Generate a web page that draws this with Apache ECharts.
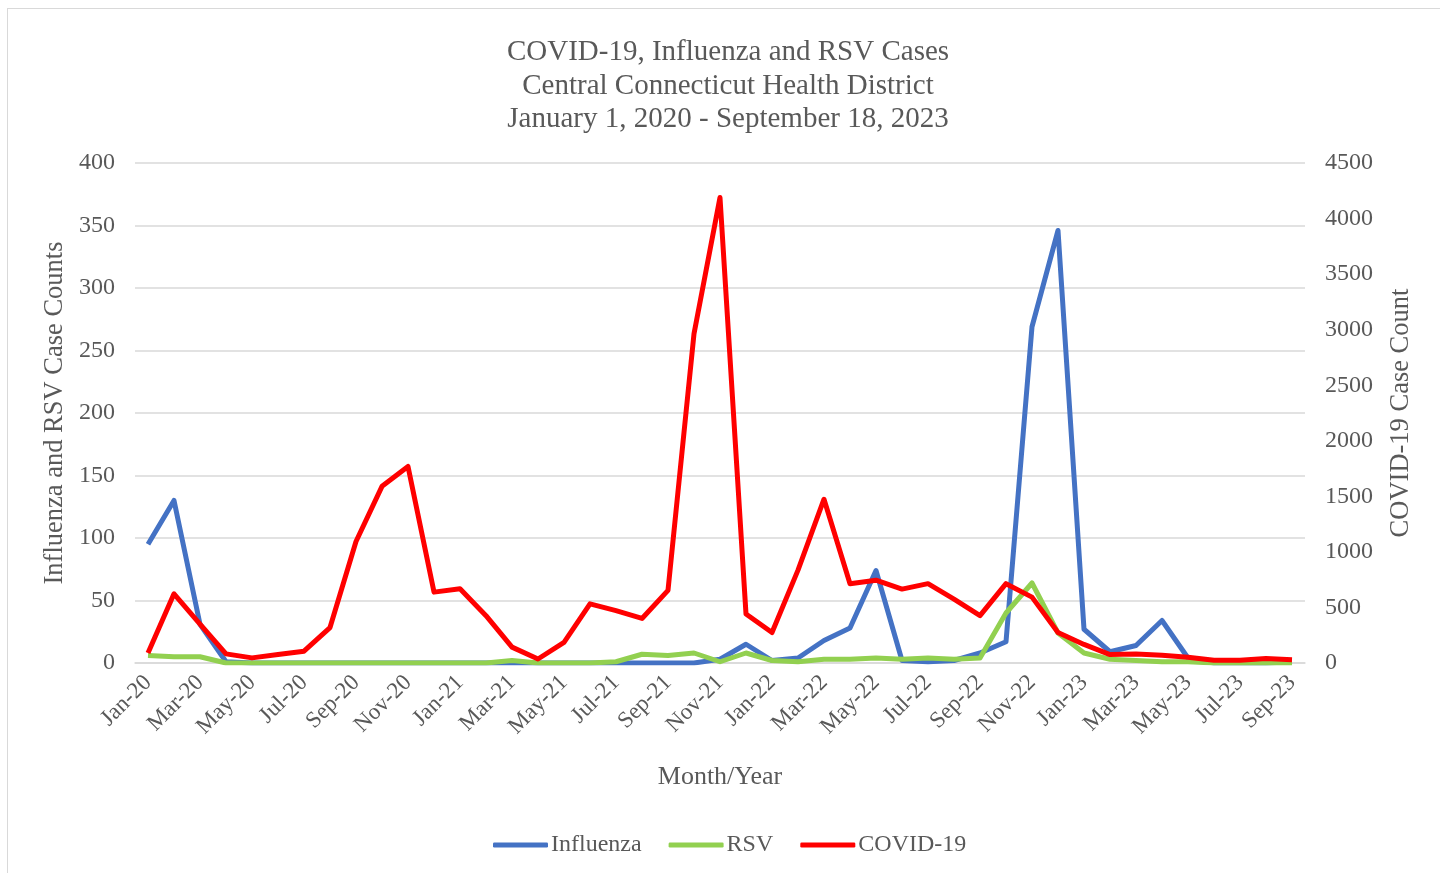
<!DOCTYPE html>
<html>
<head>
<meta charset="utf-8">
<script src="https://cdn.jsdelivr.net/npm/echarts@6/dist/echarts.min.js"></script>
<style>
  html, body { margin: 0; padding: 0; background: #fff; }
  #frame { position: absolute; left: 7px; top: 8px; width: 1440px; height: 880px; border: 1px solid #d9d9d9; }
  #main { position: absolute; left: 0; top: 0; width: 1440px; height: 873px; }
</style>
</head>
<body>
<div id="frame"></div>
<div id="main"></div>
<script>
var months = ['Jan-20','Feb-20','Mar-20','Apr-20','May-20','Jun-20','Jul-20','Aug-20','Sep-20','Oct-20','Nov-20','Dec-20',
              'Jan-21','Feb-21','Mar-21','Apr-21','May-21','Jun-21','Jul-21','Aug-21','Sep-21','Oct-21','Nov-21','Dec-21',
              'Jan-22','Feb-22','Mar-22','Apr-22','May-22','Jun-22','Jul-22','Aug-22','Sep-22','Oct-22','Nov-22','Dec-22',
              'Jan-23','Feb-23','Mar-23','Apr-23','May-23','Jun-23','Jul-23','Aug-23','Sep-23'];
var influenza = [95,130,31,1,0,0,0,0,0,0,0,0,
                 0,0,0,0,0,0,0,0,0,0,3,15,
                 2,4,18,28,74,2,1,2,8,17,269,346,
                 27,9,14,34,4,0,0,0,1];
var rsv = [6,5,5,0,0,0,0,0,0,0,0,0,
           0,0,2,0,0,0,1,7,6,8,1,8,
           2,1,3,3,4,3,4,3,4,40,64,24,
           8,3,2,1,1,0,0,0,0];
var covid = [91,623,350,82,46,76,106,319,1094,1590,1769,638,
             669,426,143,36,185,532,471,401,654,2964,4189,441,
             274,836,1474,714,745,665,714,575,426,714,593,274,
             167,76,82,70,52,24,24,40,30];

var chart = echarts.init(document.getElementById('main'));
var serif = '"Liberation Serif", "Times New Roman", serif';
var grey = '#595959';
var option = {
  textStyle: { fontFamily: serif },
  title: {
    text: 'COVID-19, Influenza and RSV Cases\nCentral Connecticut Health District\nJanuary 1, 2020 - September 18, 2023',
    left: 723, top: 31, textAlign: 'center',
    textStyle: { fontFamily: serif, fontSize: 29, fontWeight: 'normal', color: grey, lineHeight: 33.5 }
  },
  legend: {
    bottom: 11, left: 488,
    itemWidth: 55, itemHeight: 5, itemGap: 27,
    icon: 'roundRect',
    textStyle: { fontFamily: serif, fontSize: 24, color: grey, padding: [0, 0, 0, -2] },
    data: ['Influenza', 'RSV', 'COVID-19']
  },
  grid: { left: 135, right: 135, top: 163, bottom: 210 },
  xAxis: {
    type: 'category', data: months, boundaryGap: true,
    name: 'Month/Year', nameLocation: 'middle', nameGap: 101,
    nameTextStyle: { fontFamily: serif, fontSize: 26, color: grey },
    axisLine: { lineStyle: { color: '#d9d9d9', width: 1.5 } },
    axisTick: { interval: 1, length: 6, lineStyle: { color: '#d9d9d9' } },
    axisLabel: { interval: 1, rotate: 45, fontFamily: serif, fontSize: 23, color: grey, margin: 16 }
  },
  yAxis: [{
    type: 'value', min: 0, max: 400, interval: 50,
    name: 'Influenza and RSV Case Counts', nameLocation: 'middle', nameGap: 62, nameRotate: 90,
    nameTextStyle: { fontFamily: serif, fontSize: 26.5, color: grey },
    axisLine: { show: false }, axisTick: { show: false },
    axisLabel: { fontFamily: serif, fontSize: 24, color: grey, margin: 20 },
    splitLine: { lineStyle: { color: '#d9d9d9', width: 1.5 } }
  }, {
    type: 'value', min: 0, max: 4500, interval: 500,
    name: 'COVID-19 Case Count', nameLocation: 'middle', nameGap: 83, nameRotate: 90,
    nameTextStyle: { fontFamily: serif, fontSize: 26.5, color: grey },
    axisLine: { show: false }, axisTick: { show: false },
    axisLabel: { fontFamily: serif, fontSize: 24, color: grey, margin: 20, formatter: function (v) { return String(v); } },
    splitLine: { show: false }
  }],
  series: [{
    name: 'Influenza', type: 'line', data: influenza, yAxisIndex: 0,
    symbol: 'none', color: '#4472C4', lineStyle: { width: 5, join: 'round' }
  }, {
    name: 'RSV', type: 'line', data: rsv, yAxisIndex: 0,
    symbol: 'none', color: '#92D050', lineStyle: { width: 5, join: 'round' }
  }, {
    name: 'COVID-19', type: 'line', data: covid, yAxisIndex: 1,
    symbol: 'none', color: '#FF0000', lineStyle: { width: 5, join: 'round' }
  }],
  animation: false
};
chart.setOption(option);
window.onresize = chart.resize;
</script>
</body>
</html>
